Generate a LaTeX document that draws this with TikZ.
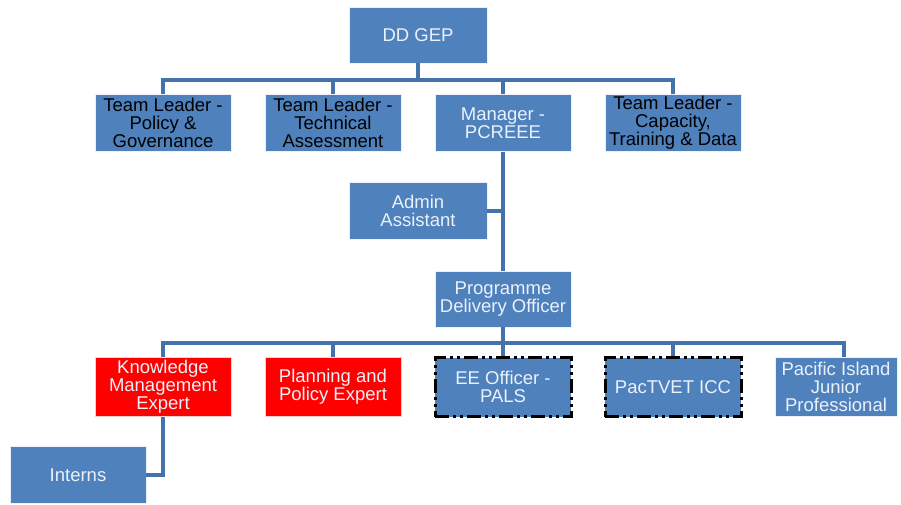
\documentclass[tikz,border=0pt]{standalone}
\usepackage{fontspec}
\setmainfont{Liberation Sans}
\definecolor{boxblue}{RGB}{79,129,189}
\definecolor{linkblue}{RGB}{68,114,170}
\definecolor{boxred}{RGB}{255,0,0}
\definecolor{paletext}{RGB}{235,241,250}
\begin{document}
\begin{tikzpicture}[x=1pt,y=-1pt,
  unit/.style={draw=paletext, line width=0.8pt, fill=boxblue, text=paletext,
    minimum width=136pt, minimum height=57pt, inner sep=0pt, align=center,
    font=\fontsize{18.5}{18}\selectfont},
  leader/.style={unit, text=black},
  expert/.style={unit, fill=boxred, draw=red!20},
  project/.style={unit, draw=black, line width=3pt,
    dash pattern=on 14pt off 4pt on 3pt off 4pt on 3pt off 4pt},
  link/.style={draw=linkblue, line width=3.2pt}]
  \useasboundingbox (0,0) rectangle (901,504);
  \node[unit, minimum width=138pt, minimum height=56pt](DDGEP) at (418,35) {DD GEP};
  \node[leader](TLPG) at (163,123) {Team Leader -\\Policy \&\\Governance};
  \node[leader](TLTA) at (333,123) {Team Leader -\\Technical\\Assessment};
  \node[unit](MGR) at (503,123) {Manager -\\PCREEE};
  \node[leader](TLCTD) at (673,123) {Team Leader -\\Capacity,\\Training \& Data};
  \node[unit, minimum width=138pt](ADMIN) at (418,211) {Admin\\Assistant};
  \node[unit, minimum height=56pt](PDO) at (503,299) {Programme\\Delivery Officer};
  \node[expert, minimum height=59pt](KME) at (163,387) {Knowledge\\Management\\Expert};
  \node[expert, minimum height=59pt](PPE) at (333,387) {Planning and\\Policy Expert};
  \node[project, minimum height=59pt](EEO) at (503,387) {EE Officer -\\PALS};
  \node[project, minimum height=59pt](PAC) at (673,387) {PacTVET ICC};
  \node[unit, minimum width=122pt, minimum height=59pt](PIJ) at (836,387) {Pacific Island\\Junior\\Professional};
  \node[unit](INTERNS) at (78,475) {Interns};
  % top level
  \coordinate(bus1) at (418,80);
  \draw[link] (DDGEP.south) -- (bus1);
  \draw[link] (TLPG.north) |- (bus1) -| (TLCTD.north);
  \draw[link] (TLTA.north) -- (TLTA.north |- bus1);
  \draw[link] (MGR.north) -- (MGR.north |- bus1);
  % PCREEE
  \draw[link] (MGR.south) -- (PDO.north);
  \draw[link] (ADMIN.east) -- (ADMIN.east -| MGR.south);
  % delivery staff
  \coordinate(bus2) at (503,343);
  \draw[link] (PDO.south) -- (bus2);
  \draw[link] (KME.north) |- (bus2) -| ([xshift=8pt]PIJ.north);
  \draw[link] (PPE.north) -- (PPE.north |- bus2);
  \draw[link] (EEO.north) -- (EEO.north |- bus2);
  \draw[link] (PAC.north) -- (PAC.north |- bus2);
  \draw[link] (KME.south) |- (INTERNS.east);
\end{tikzpicture}
\end{document}
